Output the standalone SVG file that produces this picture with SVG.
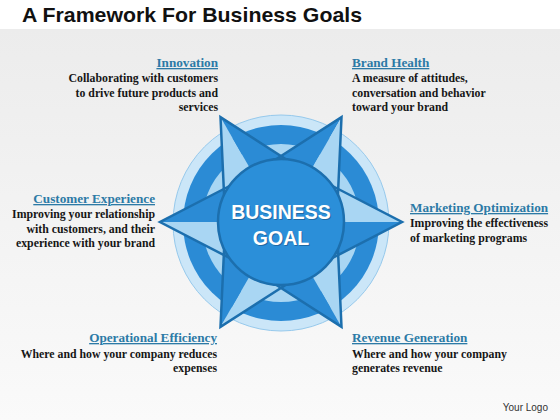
<svg xmlns="http://www.w3.org/2000/svg" width="560" height="420" viewBox="0 0 560 420">
<defs>
<linearGradient id="bg" x1="0" y1="0" x2="0" y2="1">
<stop offset="0" stop-color="#ececec"/>
<stop offset="1" stop-color="#fafafa"/>
</linearGradient>
<style>
.hd{font-family:"Liberation Serif","Times New Roman",serif;font-weight:bold;font-size:13.2px;fill:#2c7aa6;text-decoration:underline}
.bd{font-family:"Liberation Serif","Times New Roman",serif;font-weight:bold;font-size:11.8px;fill:#161616}
.r{text-anchor:end}
.lt{fill:#a9d6f3}
.dk{fill:#2b8bd5}
.edge{fill:none;stroke:#1c6fae;stroke-width:2.5;stroke-linejoin:miter}
.goal{font-family:"Liberation Sans",Arial,sans-serif;font-weight:bold;font-size:19.5px;text-anchor:middle}
</style>
</defs>
<rect x="0" y="0" width="560" height="420" fill="#ffffff"/>
<rect x="0" y="29" width="560" height="391" fill="url(#bg)"/>
<text x="22" y="22" font-family="Liberation Sans,Arial,sans-serif" font-weight="bold" font-size="21" fill="#111" textLength="340" lengthAdjust="spacingAndGlyphs">A Framework For Business Goals</text>

<g id="wheel">
<circle cx="281" cy="223" r="108" fill="#cbe6f8" stroke="#96c9ec" stroke-width="1"/>
<circle cx="281" cy="223" r="98" fill="#2b8bd5"/>
<circle cx="281" cy="223" r="79" fill="#a9d6f3"/>
</g>

<g id="star">
<polygon class="lt" points="281,222 338.2,189 402,222"/>
<polygon class="dk" points="281,222 402,222 338.2,255"/>
<polygon class="lt" points="281,222 338.2,255 341.5,326.8"/>
<polygon class="dk" points="281,222 341.5,326.8 281,288"/>
<polygon class="lt" points="281,222 281,288 220.5,326.8"/>
<polygon class="dk" points="281,222 220.5,326.8 223.8,255"/>
<polygon class="lt" points="281,222 223.8,255 160,222"/>
<polygon class="dk" points="281,222 160,222 223.8,189"/>
<polygon class="lt" points="281,222 223.8,189 220.5,117.2"/>
<polygon class="dk" points="281,222 220.5,117.2 281,156"/>
<polygon class="dk" points="281,222 281,156 341.5,117.2"/>
<polygon class="lt" points="281,222 341.5,117.2 338.2,189"/>
<polyline class="edge" points="330.5,185 402,222 330.5,259"/>
<polyline class="edge" points="337.8,246.4 341.5,326.8 273.7,283.3"/>
<polyline class="edge" points="288.3,283.3 220.5,326.8 224.2,246.4"/>
<polyline class="edge" points="231.5,259 160,222 231.5,185"/>
<polyline class="edge" points="224.2,197.6 220.5,117.2 288.3,160.7"/>
<polyline class="edge" points="273.7,160.7 341.5,117.2 337.8,197.6"/>
</g>

<g id="center">
<circle cx="281" cy="222" r="63" fill="#2b8fd9" stroke="#1c6fae" stroke-width="2.5"/>
<text class="goal" x="282" y="220" fill="#1a5a8e" opacity="0.7">BUSINESS</text>
<text class="goal" x="282" y="246" fill="#1a5a8e" opacity="0.7">GOAL</text>
<text class="goal" x="281" y="219" fill="#ffffff">BUSINESS</text>
<text class="goal" x="281" y="245" fill="#ffffff">GOAL</text>
</g>

<g id="innovation">
<text class="hd r" x="218" y="67">Innovation</text>
<text class="bd r" x="218" y="82">Collaborating with customers</text>
<text class="bd r" x="218" y="96.5">to drive future products and</text>
<text class="bd r" x="218" y="111">services</text>
</g>
<g id="brand-health">
<text class="hd" x="352" y="67">Brand Health</text>
<text class="bd" x="352" y="82">A measure of attitudes,</text>
<text class="bd" x="352" y="96.5">conversation and behavior</text>
<text class="bd" x="352" y="111">toward your brand</text>
</g>
<g id="customer-experience">
<text class="hd r" x="155" y="203">Customer Experience</text>
<text class="bd r" x="155" y="218">Improving your relationship</text>
<text class="bd r" x="155" y="232.5">with customers, and their</text>
<text class="bd r" x="155" y="247">experience with your brand</text>
</g>
<g id="marketing-optimization">
<text class="hd" x="410" y="212">Marketing Optimization</text>
<text class="bd" x="410" y="227">Improving the effectiveness</text>
<text class="bd" x="410" y="241.5">of marketing programs</text>
</g>
<g id="operational-efficiency">
<text class="hd r" x="217" y="342">Operational Efficiency</text>
<text class="bd r" x="217" y="358">Where and how your company reduces</text>
<text class="bd r" x="217" y="372">expenses</text>
</g>
<g id="revenue-generation">
<text class="hd" x="352" y="342">Revenue Generation</text>
<text class="bd" x="352" y="358">Where and how your company</text>
<text class="bd" x="352" y="372">generates revenue</text>
</g>
<text x="548" y="411" text-anchor="end" font-family="Liberation Sans,Arial,sans-serif" font-size="10" fill="#333">Your Logo</text>
</svg>
